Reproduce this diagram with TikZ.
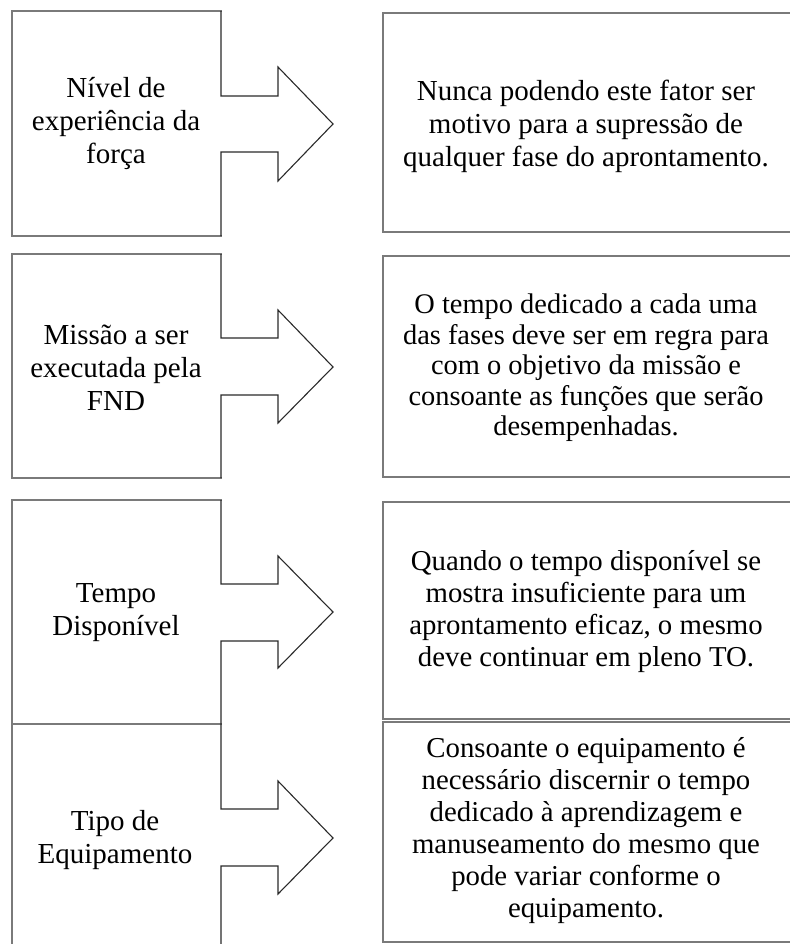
\documentclass[tikz,border=0pt]{standalone}
\usepackage{fontspec}
\setmainfont{Liberation Serif}
\definecolor{boxgray}{HTML}{7A7A7A}
\definecolor{arrowdark}{HTML}{2A2A2A}
\tikzset{
  boxline/.style={draw=boxgray, line width=1.6pt, line cap=rect},
  arrowline/.style={draw=arrowdark, line width=1.1pt, line join=miter},
  lefttext/.style={align=center, font=\fontsize{29}{33}\selectfont, inner sep=0pt},
  righttext/.style={align=center, font=\fontsize{28.8}{32}\selectfont, inner sep=0pt},
}
\begin{document}
\begin{tikzpicture}[x=1pt,y=-1pt]
\useasboundingbox (0,0) rectangle (789,944);
\fill[white] (0,0) rectangle (789,944);

% ---- left boxes (left, top, bottom edges) ----
\draw[boxline] (221,11) -- (12,11) -- (12,236) -- (221,236);
\draw[boxline] (221,254) -- (12,254) -- (12,478) -- (221,478);
\draw[boxline] (221,500) -- (12,500) -- (12,724) -- (221,724);
\draw[boxline] (12,724) -- (12,944);

% ---- right edges of left boxes with arrows ----
\foreach \ytop/\ybot/\st/\sb/\ht/\hb/\tip in {
  11/236/96/152/67/181/124,
  254/478/338/395/310/423/367,
  500/724/584/641/556/668/612,
  724/944/809/866/781/894/838}{
  \draw[arrowline] (221,\ytop) -- (221,\st) -- (278,\st) -- (278,\ht) -- (333,\tip)
        -- (278,\hb) -- (278,\sb) -- (221,\sb) -- (221,\ybot);
}

% ---- right boxes (open on the right) ----
\draw[boxline] (789,13) -- (383,13) -- (383,232) -- (789,232);
\draw[boxline] (789,256) -- (383,256) -- (383,477) -- (789,477);
\draw[boxline] (789,502) -- (383,502) -- (383,719) -- (789,719);
\draw[boxline] (789,722) -- (383,722) -- (383,942) -- (789,942);

% ---- texts ----
\node[lefttext] (l1) at (116,124) {Nível de\\experiência da\\força};
\node[lefttext] (l2) at (116,368) {Missão a ser\\executada pela\\FND};
\node[lefttext] (l3) at (116,613) {Tempo\\Disponível};
\node[lefttext] (l4) at (115,840) {Tipo de\\Equipamento};

\node[righttext, font=\fontsize{29}{33}\selectfont] (r1) at (586,126) {Nunca podendo este fator ser\\motivo para a supressão de\\qualquer fase do aprontamento.};
\node[righttext, font=\fontsize{28.4}{30.5}\selectfont] (r2) at (586,368) {O tempo dedicado a cada uma\\das fases deve ser em regra para\\com o objetivo da missão e\\consoante as funções que serão\\desempenhadas.};
\node[righttext] (r3) at (586,612) {Quando o tempo disponível se\\mostra insuficiente para um\\aprontamento eficaz, o mesmo\\deve continuar em pleno TO.};
\node[righttext] (r4) at (586,831) {Consoante o equipamento é\\necessário discernir o tempo\\dedicado à aprendizagem e\\manuseamento do mesmo que\\pode variar conforme o\\equipamento.};
\end{tikzpicture}
\end{document}
